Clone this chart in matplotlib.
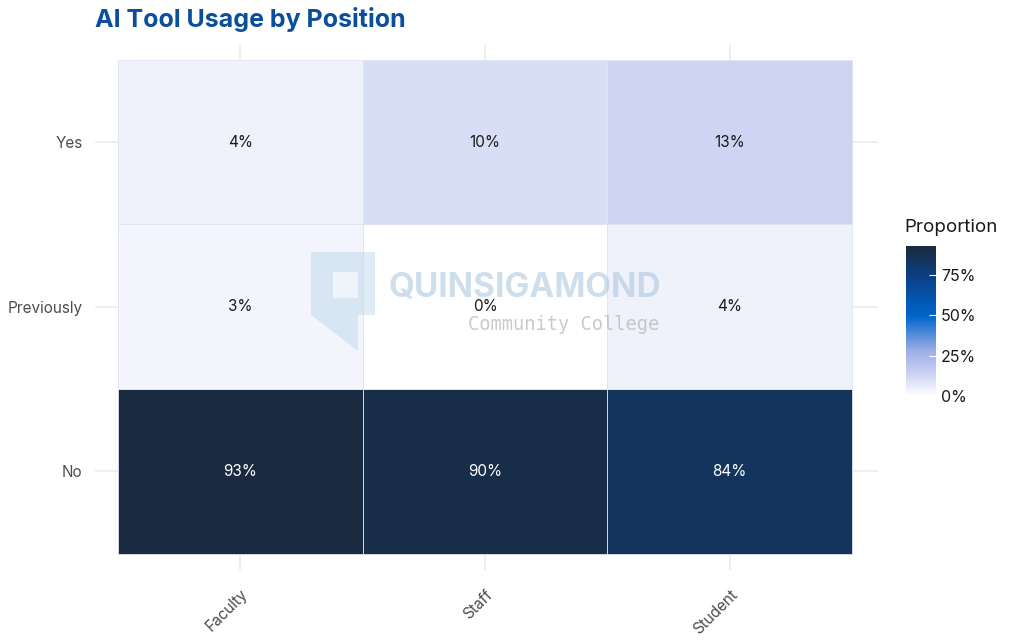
import matplotlib
matplotlib.use("Agg")
import matplotlib.pyplot as plt
import numpy as np
from matplotlib.colors import LinearSegmentedColormap, Normalize
from matplotlib.patches import Rectangle, Polygon

positions = ["Faculty", "Staff", "Student"]
responses = ["No", "Previously", "Yes"]
# proportions [response][position]
values = {
    "Yes": [0.04, 0.10, 0.13],
    "Previously": [0.03, 0.00, 0.04],
    "No": [0.93, 0.90, 0.84],
}
vmax = 0.93

plt.rcParams['font.family'] = ['Inter', 'DejaVu Sans']
cmap = LinearSegmentedColormap.from_list("q", [(0, "#ffffff"), (0.14, "#ccd4f2"), (0.3, "#9eaee6"),
                                               (0.53, "#0066cc"), (0.8, "#0b3f85"), (0.95, "#162f4c"), (1.0, "#1a2a40")])
norm = Normalize(0, vmax)

fig = plt.figure(figsize=(10.24, 6.4), dpi=100)
ax = fig.add_axes([95/1024, 1-570/640, (878-95)/1024, (570-45)/640])
ax.set_xlim(-0.594, 2.606)
ax.set_ylim(-0.6, 2.59)
for s in ax.spines.values():
    s.set_visible(False)
ax.set_xticks(range(3))
ax.set_yticks(range(3))
ax.grid(True, color="#ebebeb", lw=1.2, zorder=0)
ax.set_axisbelow(True)
ax.tick_params(axis="y", length=0, pad=9, labelsize=11, labelcolor="#4d4d4d")
ax.tick_params(axis="x", length=0, pad=12, labelsize=11, labelcolor="#4d4d4d")
ax.set_xticklabels(positions, rotation=45, ha="right", rotation_mode="anchor")
ax.set_yticklabels(responses)

for yi, r in enumerate(responses):
    for xi, v in enumerate(values[r]):
        ax.add_patch(Rectangle((xi-0.5, yi-0.5), 1, 1, facecolor=cmap(norm(v)), edgecolor="#e0e4f2", lw=0.6, zorder=2))
        ax.text(xi, yi, f"{v*100:.0f}%", ha="center", va="center", fontsize=11,
                color="white" if v > 0.5 else "#1a1a1a", zorder=4)

# watermark
ax.add_patch(Rectangle((0.29, 0.95), 0.26, 0.38, facecolor="#b8d4ea", alpha=0.45, lw=0, zorder=3))
ax.add_patch(Rectangle((0.38, 1.05), 0.10, 0.16, facecolor="white", alpha=0.6, lw=0, zorder=3))
ax.add_patch(Polygon([(0.29, 0.95), (0.48, 0.95), (0.48, 0.73)], facecolor="#b8d4ea", alpha=0.45, lw=0, zorder=3))
ax.text(0.605, 1.02, "QUINSIGAMOND", fontsize=24, fontweight="bold", color="#a9c3dc", alpha=0.55,
        ha="left", va="bottom", zorder=3)
ax.text(1.32, 0.89, "Community College", fontsize=13.5, color="#b4b4b4", alpha=0.7,
        ha="center", va="center", zorder=3, family="DejaVu Sans Mono")

fig.text(95/1024, 1-20/640, "AI Tool Usage by Position", fontsize=18, fontweight="bold",
         color="#0b4f9c", ha="left", va="center")

cax = fig.add_axes([906/1024, 1-396/640, 30/1024, 150/640])
sm = plt.cm.ScalarMappable(norm=norm, cmap=cmap)
cb = fig.colorbar(sm, cax=cax, ticks=[0, 0.25, 0.5, 0.75])
cb.ax.set_yticklabels(["0%", "25%", "50%", "75%"])
cb.outline.set_visible(False)
cb.ax.tick_params(length=5, color="white", labelsize=11.5, labelcolor="#1a1a1a", direction="in")
fig.text(904/1024, 1-228/640, "Proportion", fontsize=13.5, ha="left", va="center", color="#1a1a1a")

fig.savefig("out.png", dpi=100, facecolor="white")
